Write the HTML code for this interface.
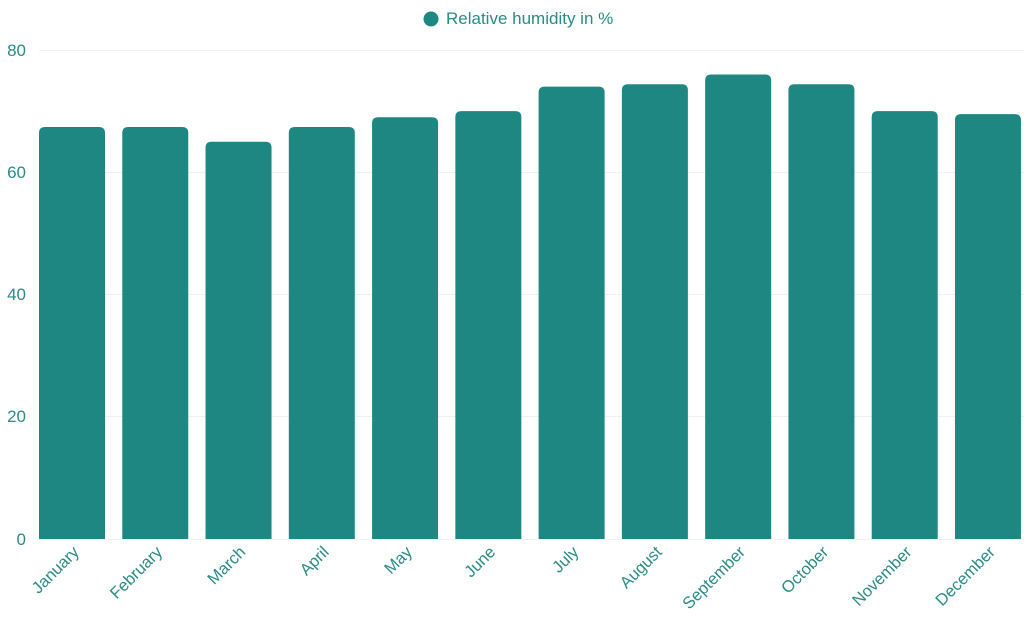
<!DOCTYPE html>
<html><head><meta charset="utf-8"><style>
html,body{margin:0;padding:0;background:#fff;}
svg{display:block;font-family:"Liberation Sans","DejaVu Sans",sans-serif;}
</style></head><body>
<svg width="1024" height="630" viewBox="0 0 1024 630" xmlns="http://www.w3.org/2000/svg">
<g stroke="#eef2f2" stroke-width="1">
<line x1="39" y1="50.5" x2="1024" y2="50.5"/>
<line x1="39" y1="172.5" x2="1024" y2="172.5"/>
<line x1="39" y1="294.5" x2="1024" y2="294.5"/>
<line x1="39" y1="416.5" x2="1024" y2="416.5"/>
<line x1="39" y1="539.5" x2="1024" y2="539.5"/>
</g>
<g fill="#2a8b85" font-size="17" text-anchor="end">
<text x="26" y="56">80</text>
<text x="26" y="178">60</text>
<text x="26" y="300">40</text>
<text x="26" y="422">20</text>
<text x="26" y="545">0</text>
</g>
<g fill="#1f8781" id="bars"></g>
<g fill="#2a8b85" font-size="16.5" text-anchor="end" id="labels"></g>
<circle cx="431" cy="19" r="7.5" fill="#1f8781"/>
<text x="446" y="24" fill="#2a8b85" font-size="17">Relative humidity in %</text>
<script>
(function(){
var vals=[67.4,67.4,65,67.4,69,70,74,74.4,76,74.4,70,69.5];
var names=["January","February","March","April","May","June","July","August","September","October","November","December"];
var ns="http://www.w3.org/2000/svg",b=document.getElementById("bars"),l=document.getElementById("labels");
for(var i=0;i<12;i++){var c=72+i*83.27,ty=539-vals[i]*6.1125,x=c-33,w=66,r=6;
var p=document.createElementNS(ns,"path");
p.setAttribute("d","M"+x+",539V"+(ty+r)+"Q"+x+","+ty+" "+(x+r)+","+ty+"H"+(x+w-r)+"Q"+(x+w)+","+ty+" "+(x+w)+","+(ty+r)+"V539Z");
b.appendChild(p);
var t=document.createElementNS(ns,"text");t.setAttribute("transform","translate("+(c+8)+",553) rotate(-45)");t.textContent=names[i];l.appendChild(t);}
})();
</script>
</svg>
</body></html>
